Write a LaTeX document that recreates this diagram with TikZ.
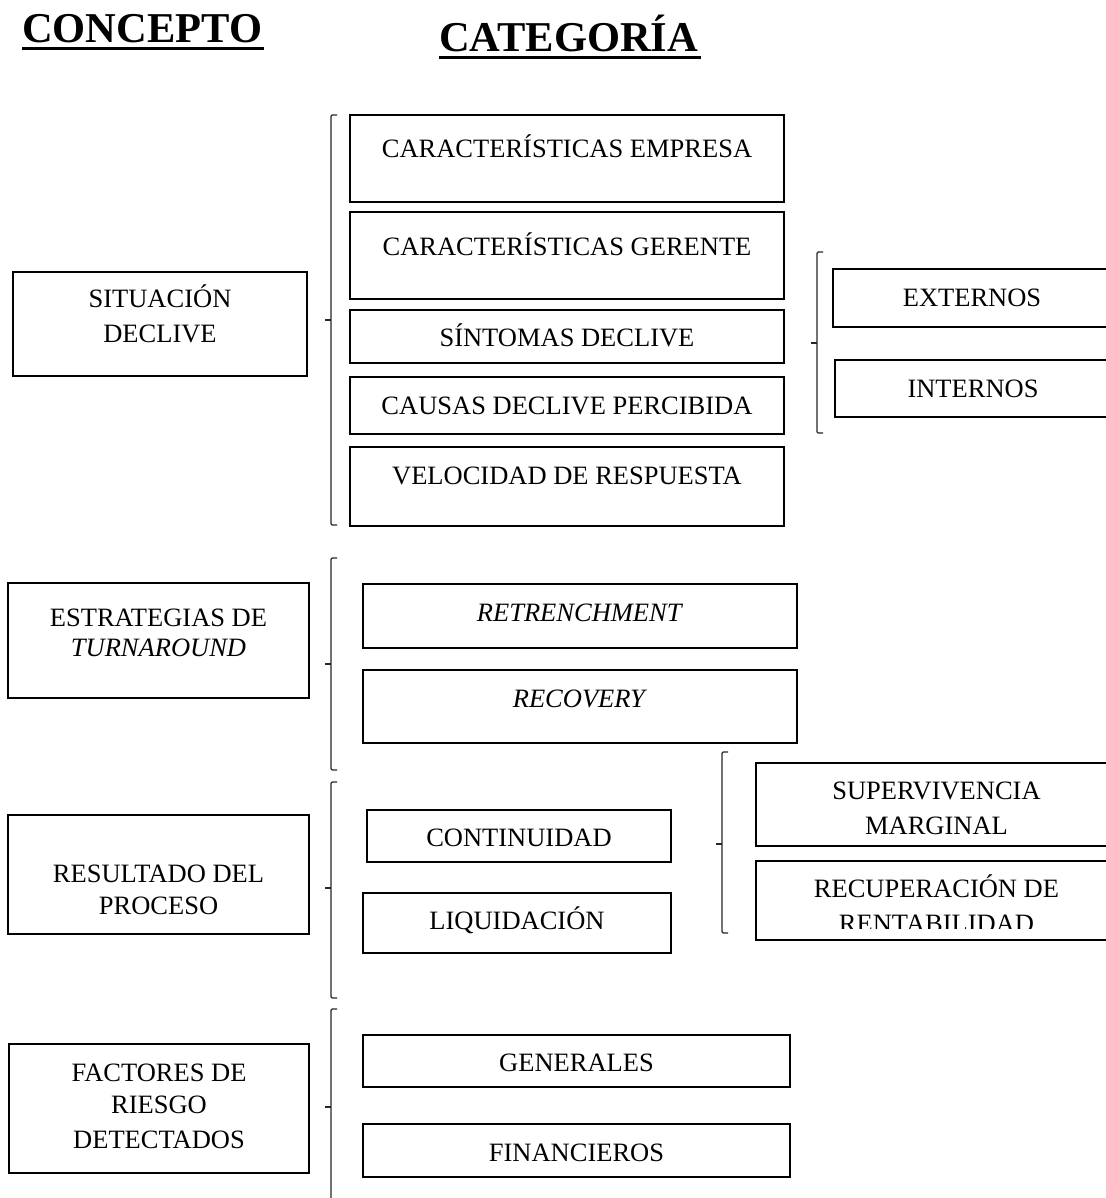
\documentclass[tikz,border=0pt]{standalone}
\usepackage{fontspec}
\setmainfont{Liberation Serif}
\usetikzlibrary{fit}
\begin{document}
\begin{tikzpicture}[x=1pt,y=-1pt,
  box/.style={draw, line width=2.9pt, inner sep=0pt, outer sep=0pt},
  lbl/.style={font=\fontsize{26.5}{35}\selectfont, inner sep=0pt, anchor=base, align=center},
  ttl/.style={font=\fontsize{42.5}{48}\selectfont\bfseries, inner sep=0pt, anchor=base west},
  brk/.style={line width=1.2pt, draw=black!85, rounded corners=1.2pt}]
\useasboundingbox (0,0) rectangle (1105,1198);

% headings
\node[ttl] (hc) at (22,43) {CONCEPTO};
\node[ttl] (hk) at (439,52) {CATEGORÍA};
\draw[line width=3.6pt] (hc.base west) ++(0,5.5) -- ++(242,0);
\draw[line width=3.6pt] (hk.base west) ++(0,5.5) -- ++(262,0);

% concept boxes (multi-line labels are placed by their last baseline)
\node[box, fit={(13,272) (307,376)}] (c1) {};
\node[box, fit={(8,583) (309,698)}] (c2) {};
\node[box, fit={(8,815) (309,934)}] (c3) {};
\node[box, fit={(9,1044) (309,1173)}] (c4) {};
\node[lbl, yshift=-70pt] (c1t) at (c1.north) {SITUACIÓN\\DECLIVE};
\node[lbl, yshift=-73pt] (c2t) at (c2.north) {ESTRATEGIAS DE\\[-5pt]\textit{TURNAROUND}};
\node[lbl, yshift=-99pt] (c3t) at (c3.north) {RESULTADO DEL\\[-3pt]PROCESO};
\node[lbl, yshift=-104pt] (c4t) at (c4.north) {FACTORES DE\\[-3pt]RIESGO\\DETECTADOS};

% categories of the first concept
\node[box, fit={(350,115) (784,202)}] (b1) {};
\node[box, fit={(350,212) (784,299)}] (b2) {};
\node[box, fit={(350,310) (784,363)}] (b3) {};
\node[box, fit={(350,377) (784,434)}] (b4) {};
\node[box, fit={(350,447) (784,526)}] (b5) {};
\node[lbl, yshift=-43pt] (b1t) at (b1.north) {CARACTERÍSTICAS EMPRESA};
\node[lbl, yshift=-43pt] (b2t) at (b2.north) {CARACTERÍSTICAS GERENTE};
\node[lbl, yshift=-36pt] (b3t) at (b3.north) {SÍNTOMAS DECLIVE};
\node[lbl, yshift=-37pt] (b4t) at (b4.north) {CAUSAS DECLIVE PERCIBIDA};
\node[lbl, yshift=-37pt] (b5t) at (b5.north) {VELOCIDAD DE RESPUESTA};

% causes of decline
\node[box, fit={(833,269) (1111,327)}] (e1) {};
\node[box, fit={(835,360) (1111,417)}] (e2) {};
\node[lbl, yshift=-37pt] (e1t) at (e1.north) {EXTERNOS};
\node[lbl, yshift=-37pt] (e2t) at (e2.north) {INTERNOS};

% turnaround strategies
\node[box, fit={(363,584) (797,648)}] (r1) {};
\node[box, fit={(363,670) (797,743)}] (r2) {};
\node[lbl, yshift=-37pt] (r1t) at (r1.north) {\textit{RETRENCHMENT}};
\node[lbl, yshift=-37pt] (r2t) at (r2.north) {\textit{RECOVERY}};

% outcome of the process
\node[box, fit={(367,810) (671,862)}] (p1) {};
\node[box, fit={(363,893) (671,953)}] (p2) {};
\node[lbl, yshift=-36pt] (p1t) at (p1.north) {CONTINUIDAD};
\node[lbl, yshift=-36pt] (p2t) at (p2.north) {LIQUIDACIÓN};

\node[box, fit={(756,763) (1117,846)}] (s1) {};
\node[box, fit={(756,861) (1117,940)}] (s2) {};
\node[lbl, yshift=-71pt] (s1t) at (s1.north) {SUPERVIVENCIA\\MARGINAL};
\begin{scope}
  \clip (756,861) rectangle (1117,928);
  \node[lbl, yshift=-71pt] (s2t) at (s2.north) {RECUPERACIÓN DE\\RENTABILIDAD};
\end{scope}

% risk factors
\node[box, fit={(363,1035) (790,1087)}] (f1) {};
\node[box, fit={(363,1124) (790,1177)}] (f2) {};
\node[lbl, yshift=-36pt] (f1t) at (f1.north) {GENERALES};
\node[lbl, yshift=-37pt] (f2t) at (f2.north) {FINANCIEROS};

% brackets
\draw[brk] (337,115) -- (331,115) -- (331,525) -- (337,525);
\draw[brk] (331,320) -- (325,320);
\draw[brk] (337,558) -- (331,558) -- (331,770) -- (337,770);
\draw[brk] (331,664) -- (325,664);
\draw[brk] (337,782) -- (331,782) -- (331,998) -- (337,998);
\draw[brk] (331,888) -- (325,888);
\draw[brk] (337,1009) -- (331,1009) -- (331,1210);
\draw[brk] (331,1107) -- (325,1107);
\draw[brk] (823,252) -- (817,252) -- (817,433) -- (823,433);
\draw[brk] (817,343) -- (811,343);
\draw[brk] (728,752) -- (722,752) -- (722,933) -- (728,933);
\draw[brk] (722,844) -- (716,844);
\end{tikzpicture}
\end{document}
